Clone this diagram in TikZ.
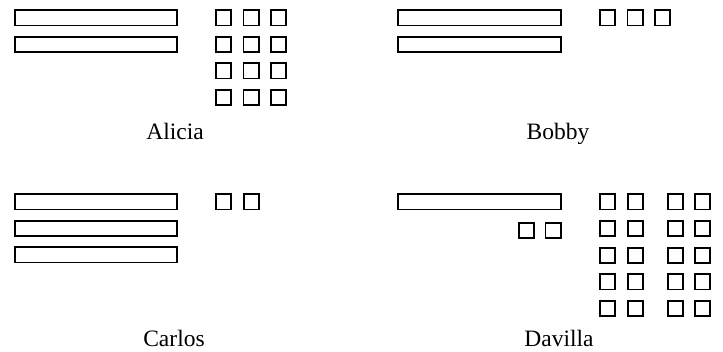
\documentclass[tikz,border=0pt]{standalone}
\usepackage{fontspec}
\setmainfont{Liberation Serif}
\begin{document}
\begin{tikzpicture}[x=1pt,y=-1pt,
  bar/.style={draw=black,line width=1.6pt,fill=white,minimum width=162.5pt,minimum height=15.4pt,inner sep=0pt,outer sep=0pt},
  sq/.style={draw=black,line width=1.6pt,fill=white,minimum width=15.4pt,minimum height=15.4pt,inner sep=0pt,outer sep=0pt},
  lbl/.style={anchor=base,inner sep=0pt,font=\fontsize{23.5}{28}\selectfont}]
\useasboundingbox[fill=white] (0,0) rectangle (723,352);
% Alicia
\node[bar] (a1) at (96,18) {};
\node[bar] (a2) at (96,44.5) {};
\foreach \r/\y in {1/18,2/44.5,3/71,4/97.5}
  \foreach \c/\x in {1/223.5,2/251,3/278.5}
    \node[sq] (as\r\c) at (\x,\y) {};
\node[lbl] (alicia) at (175,140) {Alicia};
% Bobby
\node[bar] (b1) at (479.5,18) {};
\node[bar] (b2) at (479.5,44.5) {};
\foreach \c/\x in {1/607.5,2/635,3/662.5}
  \node[sq] (bs\c) at (\x,18) {};
\node[lbl] (bobby) at (558,140) {Bobby};
% Carlos
\node[bar] (c1) at (96,202) {};
\node[bar] (c2) at (96,228.5) {};
\node[bar] (c3) at (96,255) {};
\foreach \c/\x in {1/223.5,2/251.5}
  \node[sq] (cs\c) at (\x,202) {};
\node[lbl] (carlos) at (174,346.7) {Carlos};
% Davilla
\node[bar] (d1) at (479.5,202) {};
\node[sq] (ds1) at (526.5,230.5) {};
\node[sq] (ds2) at (553,230.5) {};
\foreach \r/\y in {1/202,2/228.5,3/255.5,4/282,5/308.5}
  \foreach \c/\x in {1/607.5,2/635.5,3/675.5,4/702.5}
    \node[sq] (dg\r\c) at (\x,\y) {};
\node[lbl] (davilla) at (559,346.7) {Davilla};
\end{tikzpicture}
\end{document}
